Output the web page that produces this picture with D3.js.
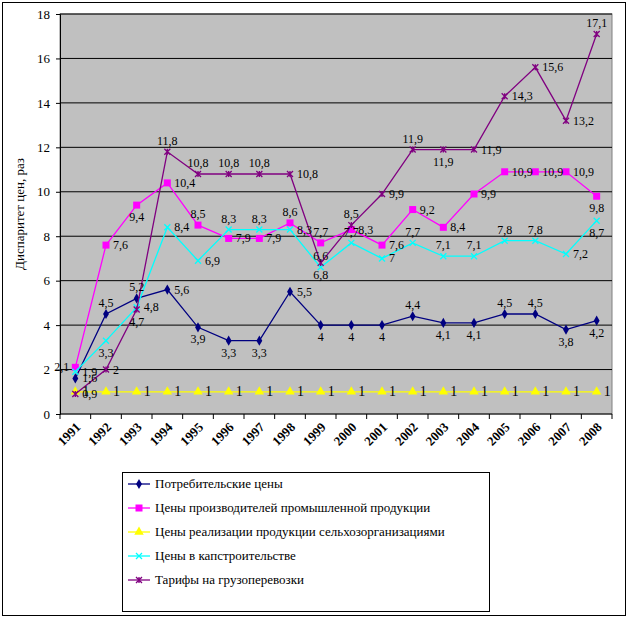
<!DOCTYPE html><html><head><meta charset="utf-8"><script src="https://cdn.jsdelivr.net/npm/d3@7"></script>
<style>body{margin:0;background:#fff}svg text{font-family:"Liberation Serif","Times New Roman",serif !important}</style></head><body><svg id="c" width="630" height="619" font-family="Liberation Serif"></svg><script>
const years=d3.range(1991,2009).map(String);
const consumer=[1.6,4.5,5.2,5.6,3.9,3.3,3.3,5.5,4,4,4,4.4,4.1,4.1,4.5,4.5,3.8,4.2];
const producer=[2.1,7.6,9.4,10.4,8.5,7.9,7.9,8.6,7.7,8.3,7.6,9.2,8.4,9.9,10.9,10.9,10.9,9.8];
const agri=Array(18).fill(1);
const constr=[1.9,3.3,4.8,8.4,6.9,8.3,8.3,8.3,6.6,7.7,7,7.7,7.1,7.1,7.8,7.8,7.2,8.7];
const cargo=[0.9,2,4.7,11.8,10.8,10.8,10.8,10.8,6.8,8.5,9.9,11.9,11.9,11.9,14.3,15.6,13.2,17.1];
const yTicks=d3.range(0,19,2);
const names=["Потребительские цены","Цены производителей промышленной продукции","Цены реализации продукции сельхозорганизациями","Цены в капстроительстве","Тарифы на грузоперевозки"];
// label placement codes: r=right, b=below, a=above, l=left
const series=[
 {v:consumer,c:"#000080",m:"diamond",size:5,pos:"r,a,a,r,b,b,b,r,b,b,b,a,b,b,a,a,b,b"},
 {v:producer,c:"#ff00ff",m:"square",size:7,pos:"l,r,b,r,a,r,r,a,a,r,r,r,r,r,r,r,r,b"},
 {v:agri,c:"#ffff00",m:"triangle",size:7,pos:"r,r,r,r,r,r,r,r,r,r,r,r,r,r,r,r,r,r"},
 {v:constr,c:"#00ffff",m:"x",size:6,pos:"r,b,r,r,r,a,a,r,a,a,r,a,a,a,a,a,r,b"},
 {v:cargo,c:"#800080",m:"star",size:6,pos:"r,r,b,a,a,a,a,r,b,a,r,a,b,r,r,r,r,a"}];
const svg=d3.select("#c");
svg.append("rect").attr("x",2.5).attr("y",2.5).attr("width",623).attr("height",613).attr("fill","#fff").attr("stroke","#000");
const L=60,R=612,T=14,B=414;
const x=d3.scaleBand().domain(years).range([L,R]);
const y=d3.scaleLinear().domain([0,18]).range([B,T]);
svg.append("rect").attr("x",L).attr("y",T).attr("width",R-L).attr("height",B-T).attr("fill","#c0c0c0").attr("stroke","#808080");
svg.append("g").selectAll("line").data(yTicks.slice(1)).join("line").attr("x1",L).attr("x2",R).attr("y1",d=>y(d)).attr("y2",d=>y(d)).attr("stroke","#000");
const ya=svg.append("g").attr("transform",`translate(${L},0)`).call(d3.axisLeft(y).tickValues(yTicks).tickSize(4).tickPadding(6));
ya.attr("font-family","Liberation Serif").selectAll("text").attr("font-size",13);
svg.append("line").attr("x1",L).attr("x2",R).attr("y1",B).attr("y2",B).attr("stroke","#000");
svg.append("g").selectAll("line").data(years.concat(["end"])).join("line").attr("x1",(d,i)=>L+i*x.step()).attr("x2",(d,i)=>L+i*x.step()).attr("y1",B).attr("y2",B+5).attr("stroke","#000");
svg.append("g").selectAll("text").data(years).join("text").attr("transform",d=>`translate(${x(d)+x.bandwidth()/2+6},${B+14}) rotate(-45)`).attr("text-anchor","end").attr("font-size",13).attr("font-weight","bold").text(d=>d);
svg.selectAll(".domain").attr("stroke","#000");
svg.append("text").attr("x",336).attr("y",485).attr("text-anchor","middle").attr("font-size",13).attr("font-weight","bold").text("Годы");
svg.append("text").attr("transform","translate(24,214) rotate(-90)").attr("text-anchor","middle").attr("font-size",13).text("Диспаритет цен, раз");
const cx=d=>x(d)+x.bandwidth()/2;
function marker(g,m,c,s){
 if(m=="diamond")g.append("path").attr("d",d3.symbol(d3.symbolDiamond,s*s*1.2)()).attr("fill",c);
 else if(m=="square")g.append("rect").attr("x",-s/2).attr("y",-s/2).attr("width",s).attr("height",s).attr("fill",c);
 else if(m=="triangle")g.append("path").attr("d",d3.symbol(d3.symbolTriangle,s*s*0.8)()).attr("fill",c);
 else{g.append("path").attr("d",`M${-s/2},${-s/2}L${s/2},${s/2}M${-s/2},${s/2}L${s/2},${-s/2}`+(m=="star"?`M0,${-s/2}L0,${s/2}`:"")).attr("stroke",c).attr("stroke-width",1.3);}
}
const line=d3.line().x((d,i)=>cx(years[i])).y(d=>y(d));
series.forEach(s=>{
 svg.append("path").datum(s.v).attr("d",line).attr("fill","none").attr("stroke",s.c).attr("stroke-width",1.3);
 s.v.forEach((v,i)=>{const g=svg.append("g").attr("transform",`translate(${cx(years[i])},${y(v)})`);marker(g,s.m,s.c,s.size);});
});
const off={r:[7,4,"start"],l:[-6,4,"end"],a:[0,-7,"middle"],b:[0,16,"middle"]};
series.forEach(s=>{const p=s.pos.split(",");
 svg.append("g").selectAll("text").data(s.v).join("text").attr("x",(d,i)=>cx(years[i])+off[p[i]][0]).attr("y",(d,i)=>y(d)+off[p[i]][1]).attr("text-anchor",(d,i)=>off[p[i]][2]).attr("font-size",s.m=="triangle"?14:12).attr("fill","#000").text(d=>String(d).replace(".",","));
});
const lg=svg.append("g");
lg.append("rect").attr("x",122.5).attr("y",472.5).attr("width",367).attr("height",139).attr("fill","#fff").attr("stroke","#000");
names.forEach((n,i)=>{const yy=484+i*24;const s=series[i];
 lg.append("line").attr("x1",128).attr("x2",150).attr("y1",yy).attr("y2",yy).attr("stroke",s.c).attr("stroke-width",1.3);
 marker(lg.append("g").attr("transform",`translate(139,${yy})`),s.m,s.c,s.size);
 lg.append("text").attr("x",155).attr("y",yy+4).attr("font-size",13).text(n);});
</script></body></html>
